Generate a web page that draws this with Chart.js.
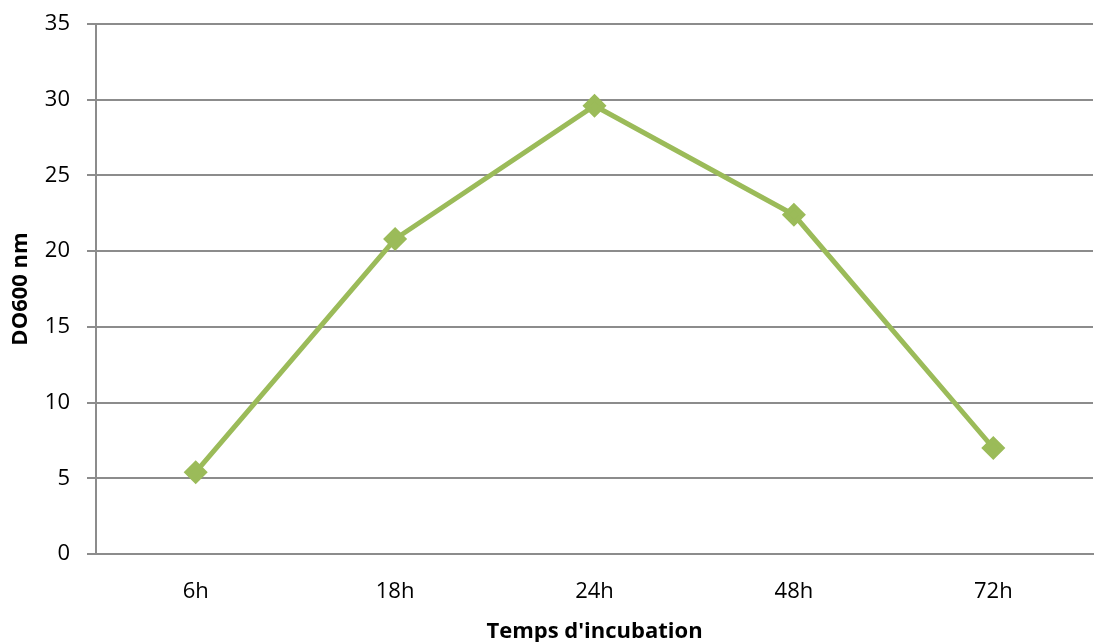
<!DOCTYPE html>
<html>
<head>
<meta charset="utf-8">
<script src="https://cdn.jsdelivr.net/npm/chart.js@4/dist/chart.umd.min.js"></script>
<style>
  html, body { margin: 0; padding: 0; background: #fff; }
  #wrap { width: 1096px; height: 642px; }
</style>
</head>
<body>
<div id="wrap"><canvas id="chart" width="1096" height="642"></canvas></div>
<script>
// Data
const categories = ['6h', '18h', '24h', '48h', '72h'];
const values = [5.4, 20.8, 29.6, 22.4, 7.0];
const yTicks = [0, 5, 10, 15, 20, 25, 30, 35];

const gridColor = '#8c8c8c';
const fontFamily = "'Open Sans', 'Liberation Sans', sans-serif";

const ctx = document.getElementById('chart').getContext('2d');
new Chart(ctx, {
    type: 'line',
    data: {
        labels: categories,
        datasets: [{
            data: values,
            borderColor: '#9BBB59',
            backgroundColor: '#9BBB59',
            borderWidth: 5,
            pointStyle: 'rectRot',
            pointRadius: 8.5,
            pointHoverRadius: 8.5,
            tension: 0,
            clip: false
        }]
    },
    options: {
        responsive: false,
        animation: false,
        layout: { autoPadding: false, padding: { top: 24, right: 3, left: 0, bottom: 0 } },
        plugins: { legend: { display: false }, tooltip: { enabled: false } },
        scales: {
            x: {
                offset: true,
                grid: { display: false, drawTicks: false },
                border: { display: true, color: gridColor, width: 2 },
                ticks: { color: '#000', font: { family: fontFamily, size: 22 }, padding: 25, maxRotation: 0 },
                title: {
                    display: true,
                    text: "Temps d'incubation",
                    color: '#000',
                    font: { family: fontFamily, size: 22, weight: 'bold' },
                    padding: { top: 4, bottom: -3 }
                },
                afterFit: (scale) => {
                    scale.height = 88;
                    scale.paddingLeft = 0;
                    scale.paddingRight = 0;
                }
            },
            y: {
                min: 0,
                max: 35,
                afterBuildTicks: (scale) => { scale.ticks = yTicks.map(v => ({ value: v })); },
                grid: { color: gridColor, lineWidth: 2, tickLength: 9 },
                border: { display: true, color: gridColor, width: 2 },
                ticks: { color: '#000', font: { family: fontFamily, size: 22 }, padding: 17 },
                title: {
                    display: true,
                    text: 'DO600 nm',
                    color: '#000',
                    font: { family: fontFamily, size: 22, weight: 'bold' },
                    padding: { top: 8, bottom: 0 }
                },
                afterFit: (scale) => {
                    scale.width = 96;
                    scale.paddingTop = 0;
                    scale.paddingBottom = 0;
                }
            }
        }
    }
});
</script>
</body>
</html>
